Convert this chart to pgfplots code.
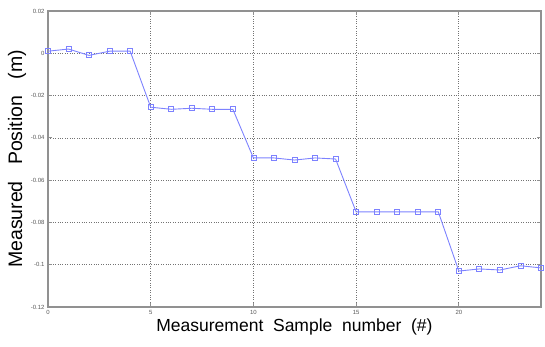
\documentclass[border=0pt]{standalone}
\usepackage{pgfplots}
\pgfplotsset{compat=1.18}
\usepackage{fontspec}
\setmainfont{Liberation Sans}
\definecolor{lineblue}{RGB}{125,130,255}
\definecolor{axgray}{RGB}{145,145,145}
\begin{document}
\begin{tikzpicture}
\begin{axis}[
  name=ax,
  scale only axis,
  width=493pt, height=296pt,
  xmin=0, xmax=24, ymin=-0.12, ymax=0.02,
  xtick={0,5,10,15,20},
  ytick={-0.12,-0.1,-0.08,-0.06,-0.04,-0.02,0,0.02},
  yticklabels={-0.12,-0.1,-0.08,-0.06,-0.04,-0.02,0,0.02},
  scaled y ticks=false,
  /pgf/number format/assume math mode=true,
  ticklabel style={font=\fontsize{6}{7}\selectfont, text=black!65},
  tick align=inside,
  major tick length=4pt,
  tick style={axgray, line width=0.8pt},
  axis line style={axgray, line width=1.3pt},
  grid=major,
  grid style={black!55, dotted, line width=0.7pt},
  xlabel={Measurement\ \ Sample\ \ number\ \ (\#)},
  ylabel={Measured\ \ \ Position\ \ \ (m)},
  xlabel style={font=\fontsize{17.5}{20}\selectfont, at={(axis description cs:0.5,0)}, anchor=center, yshift=-20pt},
  ylabel style={font=\fontsize{19.5}{22}\selectfont, at={(axis description cs:0,0.5)}, anchor=center, yshift=31pt},
]
\addplot[color=lineblue, line width=0.9pt, mark=square, mark size=2.5pt, mark options={solid, line width=0.8pt}] coordinates {
(0,0.001) (1,0.002) (2,-0.001) (3,0.001) (4,0.001)
(5,-0.0255) (6,-0.0265) (7,-0.026) (8,-0.0265) (9,-0.0265)
(10,-0.0495) (11,-0.0495) (12,-0.0505) (13,-0.0495) (14,-0.050)
(15,-0.075) (16,-0.075) (17,-0.075) (18,-0.075) (19,-0.075)
(20,-0.103) (21,-0.102) (22,-0.1025) (23,-0.1005) (24,-0.1015)
};
\end{axis}
\pgfresetboundingbox
\path[use as bounding box] ([xshift=-48pt,yshift=-40pt]ax.south west) rectangle ([xshift=4pt,yshift=11pt]ax.north east);
\end{tikzpicture}
\end{document}
